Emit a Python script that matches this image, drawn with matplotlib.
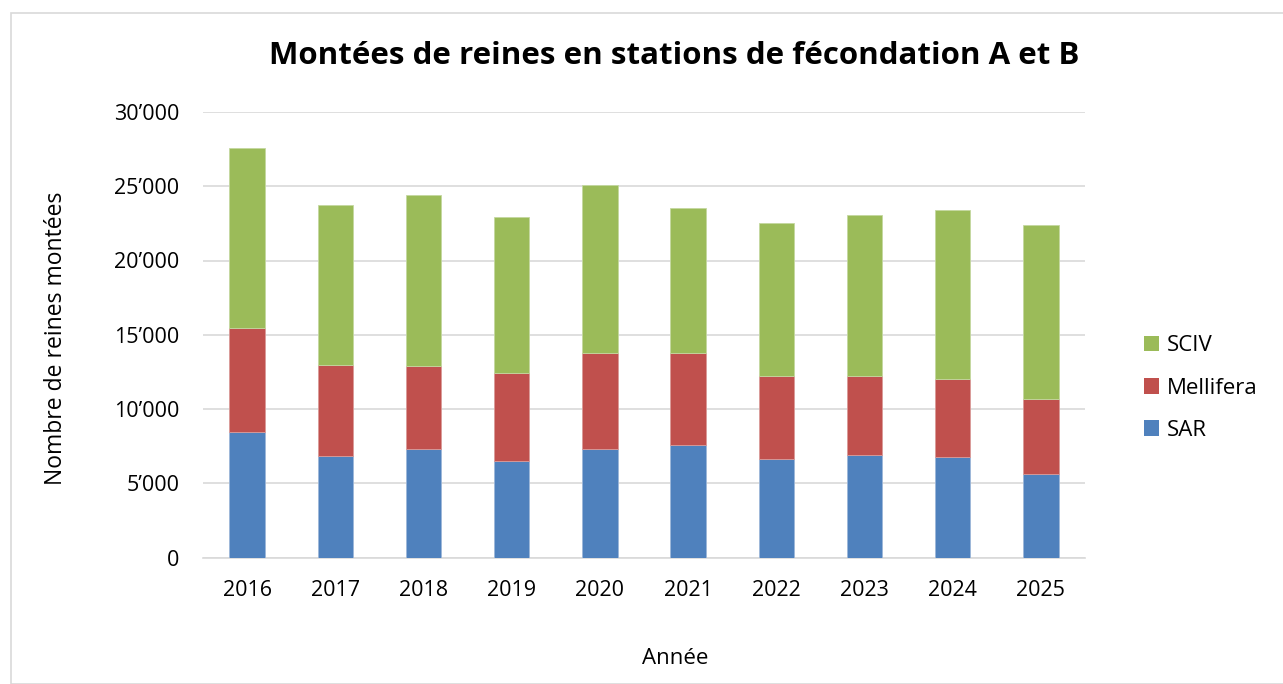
import matplotlib
matplotlib.use("Agg")
import matplotlib.pyplot as plt
from matplotlib.ticker import FuncFormatter
from matplotlib.patches import Rectangle, Patch
import numpy as np

years = ["2016", "2017", "2018", "2019", "2020", "2021", "2022", "2023", "2024", "2025"]
sar = [8450, 6850, 7340, 6490, 7300, 7550, 6630, 6900, 6740, 5590]
mellifera = [6980, 6090, 5580, 5930, 6490, 6190, 5560, 5300, 5300, 5080]
sciv = [12150, 10780, 11500, 10510, 11300, 9820, 10360, 10870, 11340, 11700]

c_sar = "#4F81BD"
c_mel = "#C0504D"
c_sciv = "#9BBB59"

plt.rcParams['font.family'] = ['Open Sans', 'DejaVu Sans']

W, H = 1283, 684
fig = plt.figure(figsize=(W / 100, H / 100), dpi=100)
fig.patch.set_facecolor("white")

# outer chart border
fig.patches.append(Rectangle((11 / W, 0), 1.0, 1 - 13 / H, transform=fig.transFigure,
                             fill=False, edgecolor="#D9D9D9", linewidth=1.2))

left, right, top, bottom = 203, 1085, 112, 557.5
ax = fig.add_axes([left / W, 1 - bottom / H, (right - left) / W, (bottom - top) / H])

x = np.arange(len(years))
bw = 0.40
sar_a = np.array(sar)
mel_a = np.array(mellifera)
sciv_a = np.array(sciv)
ax.bar(x, sar_a, bw, color=c_sar, edgecolor="#9DB7D9", linewidth=0.6, zorder=3)
ax.bar(x, mel_a, bw, bottom=sar_a, color=c_mel, edgecolor="#DA9A98", linewidth=0.6, zorder=3)
ax.bar(x, sciv_a, bw, bottom=sar_a + mel_a, color=c_sciv, edgecolor="#C4D8A0", linewidth=0.6, zorder=3)

ax.set_xlim(-0.5, len(years) - 0.5)
ax.set_ylim(0, 30000)
ax.set_yticks(np.arange(0, 30001, 5000))
ax.yaxis.set_major_formatter(FuncFormatter(lambda v, p: "0" if v == 0 else f"{int(v):,}".replace(",", "\u2019")))
ax.set_xticks(x)
ax.set_xticklabels(years)
ax.grid(axis="y", color="#D9D9D9", linewidth=1.2, zorder=0)
ax.set_axisbelow(True)
for s in ["top", "right", "left"]:
    ax.spines[s].set_visible(False)
ax.spines["bottom"].set_color("#D9D9D9")
ax.spines["bottom"].set_linewidth(1.2)
ax.tick_params(axis="both", length=0, labelsize=15.5, colors="#000000")
ax.tick_params(axis="y", pad=17)
ax.tick_params(axis="x", pad=16)

fig.text(674 / W, 1 - 56 / H, "Montées de reines en stations de fécondation A et B",
         ha="center", va="center", fontsize=22.5, fontweight="bold")
fig.text(56 / W, 1 - 338 / H, "Nombre de reines montées", rotation=90,
         ha="center", va="center", fontsize=16.5)
fig.text(675 / W, 1 - 658 / H, "Année", ha="center", va="center", fontsize=16)

handles = [Patch(facecolor=c_sciv), Patch(facecolor=c_mel), Patch(facecolor=c_sar)]
fig.legend(handles, ["SCIV", "Mellifera", "SAR"], loc="center left",
           bbox_to_anchor=(1126 / W, 1 - 388 / H), frameon=False, fontsize=16,
           handlelength=0.7, handleheight=0.7, handletextpad=0.35, labelspacing=0.95,
           borderpad=0.3)

fig.savefig("out.png", dpi=100, facecolor="white")
